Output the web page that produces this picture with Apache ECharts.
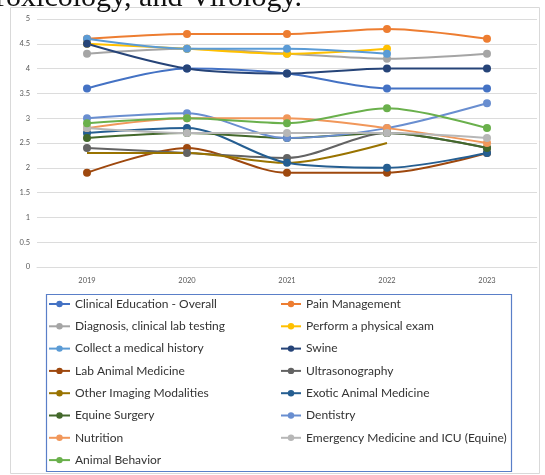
<!DOCTYPE html>
<html>
<head>
<meta charset="utf-8">
<script src="https://cdn.jsdelivr.net/npm/echarts@6/dist/echarts.min.js"></script>
<style>
  html, body { margin: 0; padding: 0; background: #ffffff; overflow: hidden; }
  #chart { width: 545px; height: 475px; }
</style>
</head>
<body>
<div id="chart"></div>
<script>
// Survey years on the category axis
var years = ['2019', '2020', '2021', '2022', '2023'];

// Mean ratings per topic, one value per year (null = not surveyed)
var clinicalEducation = [3.6, 4.0, 3.9, 3.6, 3.6];
var painManagement    = [4.6, 4.7, 4.7, 4.8, 4.6];
var diagnosisLab      = [4.3, 4.4, 4.3, 4.2, 4.3];
var physicalExam      = [4.5, 4.4, 4.3, 4.4, null];
var medicalHistory    = [4.6, 4.4, 4.4, 4.3, null];
var swine             = [4.5, 4.0, 3.9, 4.0, 4.0];
var labAnimal         = [1.9, 2.4, 1.9, 1.9, 2.3];
var ultrasonography   = [2.4, 2.3, 2.2, 2.7, 2.4];
var otherImaging      = [2.3, 2.3, 2.1, 2.5, null];
var exoticAnimal      = [2.7, 2.8, 2.1, 2.0, 2.3];
var equineSurgery     = [2.6, 2.7, 2.6, 2.7, 2.4];
var dentistry         = [3.0, 3.1, 2.6, 2.8, 3.3];
var nutrition         = [2.8, 3.0, 3.0, 2.8, 2.5];
var emergencyEquine   = [2.8, 2.7, 2.7, 2.7, 2.6];
var animalBehavior    = [2.9, 3.0, 2.9, 3.2, 2.8];

// Series names, in legend order
var seriesNames = [
  'Clinical Education - Overall', 'Pain Management',
  'Diagnosis, clinical lab testing', 'Perform a physical exam',
  'Collect a medical history', 'Swine',
  'Lab Animal Medicine', 'Ultrasonography',
  'Other Imaging Modalities', 'Exotic Animal Medicine',
  'Equine Surgery', 'Dentistry',
  'Nutrition', 'Emergency Medicine and ICU (Equine)',
  'Animal Behavior'
];
var seriesValues = [
  clinicalEducation, painManagement, diagnosisLab, physicalExam,
  medicalHistory, swine, labAnimal, ultrasonography, otherImaging,
  exoticAnimal, equineSurgery, dentistry, nutrition, emergencyEquine,
  animalBehavior
];
var seriesColors = [
  '#4472C4', '#ED7D31', '#A5A5A5', '#FFC000', '#5B9BD5', '#264478',
  '#9E480E', '#636363', '#997300', '#255E91', '#43682B', '#698ED0',
  '#F1975A', '#B7B7B7', '#6AB04C'
];
var noMarker = { 'Other Imaging Modalities': true };

var series = seriesNames.map(function (name, i) {
  return {
    name: name,
    type: 'line',
    data: seriesValues[i],
    smooth: 0.3,
    symbol: noMarker[name] ? 'none' : 'circle',
    symbolSize: 8,
    showSymbol: !noMarker[name],
    connectNulls: false,
    color: seriesColors[i],
    lineStyle: { width: 2, color: seriesColors[i] },
    itemStyle: { color: seriesColors[i] },
    emphasis: { disabled: true },
    animation: false
  };
});

var leftNames = seriesNames.filter(function (n, i) { return i % 2 === 0; });
var rightNames = seriesNames.filter(function (n, i) { return i % 2 === 1; });

var legendText = { fontFamily: 'Lato', fontSize: 12, color: '#333333', lineHeight: 14 };

var chart = echarts.init(document.getElementById('chart'), null, { renderer: 'canvas' });
chart.setOption({
  backgroundColor: '#ffffff',
  animation: false,
  grid: { left: 37, right: 8, top: 19, bottom: 208, containLabel: false },
  xAxis: {
    type: 'category',
    data: years,
    boundaryGap: true,
    axisLine: { show: true, lineStyle: { color: '#dcdcdc' } },
    axisTick: { show: false },
    axisLabel: { fontSize: 7.5, color: '#595959', margin: 10, fontFamily: 'Lato' }
  },
  yAxis: {
    type: 'value',
    min: 0,
    max: 5,
    interval: 0.5,
    axisLine: { show: false },
    axisTick: { show: false },
    splitLine: { lineStyle: { color: '#dcdcdc', width: 1 } },
    axisLabel: { fontSize: 7.5, color: '#595959', margin: 7, fontFamily: 'Lato' }
  },
  legend: [
    {
      data: leftNames, orient: 'vertical', left: 48, top: 297,
      itemWidth: 21, itemHeight: 8, itemGap: 8.3, padding: 0,
      textStyle: legendText, selectedMode: false
    },
    {
      data: rightNames, orient: 'vertical', left: 280, top: 297,
      itemWidth: 20, itemHeight: 8, itemGap: 8.3, padding: 0,
      textStyle: legendText, selectedMode: false
    }
  ],
  graphic: [
    {
      type: 'rect', z: -1, silent: true,
      shape: { x: 10.5, y: 7.5, width: 529, height: 466 },
      style: { fill: 'none', stroke: '#d9d9d9', lineWidth: 1 }
    },
    {
      type: 'rect', silent: true,
      shape: { x: 46.5, y: 294.5, width: 465, height: 177 },
      style: { fill: 'none', stroke: '#5a7fc8', lineWidth: 1.2 }
    },
    {
      type: 'text', silent: true, x: 302, y: 13,
      style: {
        text: 'Toxicology, and Virology.',
        font: '30px "Liberation Serif"',
        fill: '#111111',
        textAlign: 'right',
        textVerticalAlign: 'bottom'
      }
    }
  ],
  series: series
});
</script>
</body>
</html>
